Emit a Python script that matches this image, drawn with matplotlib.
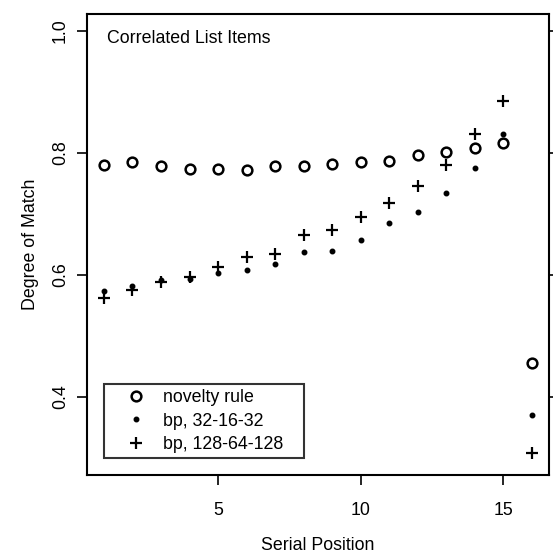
import numpy as np
import matplotlib
matplotlib.use("Agg")
import matplotlib.pyplot as plt

plt.rcParams['font.family'] = ['Liberation Sans', 'DejaVu Sans']

# Data
position = np.arange(1, 17)
novelty = [0.780, 0.785, 0.779, 0.774, 0.774, 0.772, 0.778, 0.778,
           0.782, 0.785, 0.787, 0.796, 0.802, 0.809, 0.816, 0.456]
bp_small = [0.574, 0.582, 0.592, 0.593, 0.604, 0.609, 0.618, 0.637,
            0.639, 0.657, 0.686, 0.703, 0.734, 0.775, 0.831, 0.370]
bp_large = [0.562, 0.575, 0.589, 0.596, 0.613, 0.629, 0.634, 0.666,
            0.673, 0.695, 0.718, 0.746, 0.780, 0.831, 0.885, 0.308]

fig = plt.figure(figsize=(5.53, 5.57), dpi=100)
ax = fig.add_axes([0.157, 0.147, 0.836, 0.828])

ax.plot(position, novelty, 'o', ms=7, mfc='none', mec='black', mew=1.8,
        label='novelty rule')
ax.plot(position, bp_small, '.', ms=6.5, color='black', label='bp, 32-16-32')
ax.plot(position, bp_large, '+', ms=8, color='black', mew=1.6,
        label='bp, 128-64-128')

ax.set_xlim(0.4, 16.6)
ax.set_ylim(0.272, 1.028)
ax.set_xticks([5, 10, 15])
ax.set_yticks([0.4, 0.6, 0.8, 1.0])
ax.set_yticklabels(['0.4', '0.6', '0.8', '1.0'], rotation=90, va='center')
ax.tick_params(direction='out', length=7, width=1.2, labelsize=12.8,
               right=True)
ax.tick_params(axis='x', pad=12)
ax.tick_params(axis='y', pad=6)
for s in ax.spines.values():
    s.set_linewidth(1.5)

ax.set_xlabel('Serial Position', fontsize=12.8, labelpad=13)
ax.set_ylabel('Degree of Match', fontsize=12.8, labelpad=9)

ax.text(0.043, 0.965, 'Correlated List Items', transform=ax.transAxes,
        fontsize=12.8, va='top', ha='left')

leg = ax.legend(loc='lower left', bbox_to_anchor=(0.037, 0.037, 0.433, 0.16),
                mode='expand', fontsize=12.8, frameon=True, fancybox=False,
                edgecolor='black', borderpad=0.3, handletextpad=0.0,
                labelspacing=0.35, handlelength=3.0, borderaxespad=0)
leg.get_frame().set_linewidth(1.5)

fig.savefig('out.png', dpi=100)
